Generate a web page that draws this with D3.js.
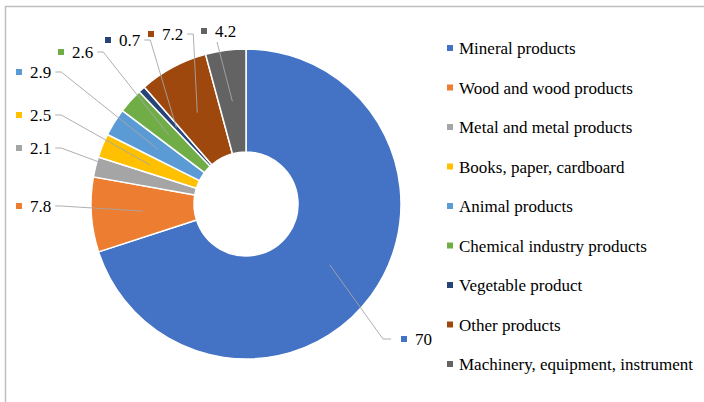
<!DOCTYPE html>
<html>
<head>
<meta charset="utf-8">
<script src="https://cdn.jsdelivr.net/npm/d3@7"></script>
<style>
  html, body { margin: 0; padding: 0; background: #fff; }
  svg { display: block; }
</style>
</head>
<body>
<svg id="chart" width="704" height="402"></svg>
<script>
// ---- data ----
const categories = [
  "Mineral products",
  "Wood and wood products",
  "Metal and metal products",
  "Books, paper, cardboard",
  "Animal products",
  "Chemical industry products",
  "Vegetable product",
  "Other products",
  "Machinery, equipment, instrument"
];
const values = [70, 7.8, 2.1, 2.5, 2.9, 2.6, 0.7, 7.2, 4.2];
const colors = ["#4472C4", "#ED7D31", "#A5A5A5", "#FFC000", "#5B9BD5", "#70AD47", "#264478", "#9E480E", "#636363"];

// ---- layout (label anchors, not data) ----
const labelLayout = [
  { x: 404, y: 339, side: "left" },
  { x: 19,  y: 206, side: "right" },
  { x: 19,  y: 148, side: "right" },
  { x: 19,  y: 115, side: "right" },
  { x: 19,  y: 72,  side: "right" },
  { x: 61,  y: 52,  side: "right" },
  { x: 108, y: 40,  side: "right" },
  { x: 151, y: 34,  side: "right" },
  { x: 204, y: 31,  side: "bottom" }
];

const FONT = "'Liberation Serif'";
const svg = d3.select("#chart");
const cx = 246, cy = 204, rOuter = 155, rInner = 52;
const fontSize = 17;

// frame lines
svg.append("line").attr("x1", 5.5).attr("x2", 5.5).attr("y1", 6).attr("y2", 402)
  .attr("stroke", "#BFBFBF").attr("stroke-width", 1.5);
svg.append("line").attr("x1", 5).attr("x2", 704).attr("y1", 6.5).attr("y2", 6.5)
  .attr("stroke", "#BFBFBF").attr("stroke-width", 1.5);

const pie = d3.pie().sort(null).value(d => d).startAngle(0).endAngle(2 * Math.PI);
const arcs = pie(values);
const arc = d3.arc().innerRadius(rInner).outerRadius(rOuter);

const g = svg.append("g").attr("transform", `translate(${cx},${cy})`);
g.selectAll("path.slice").data(arcs).join("path")
  .attr("class", "slice")
  .attr("d", arc)
  .attr("fill", (d, i) => colors[i])
  .attr("stroke", "#fff")
  .attr("stroke-width", 1.5)
  .attr("stroke-linejoin", "round");

// data labels with leader lines
const labG = svg.append("g");
arcs.forEach((d, i) => {
  const L = labelLayout[i];
  const c = arc.centroid(d);
  const px = cx + c[0], py = cy + c[1];
  labG.append("rect").attr("x", L.x - 3).attr("y", L.y - 3).attr("width", 6).attr("height", 6)
    .attr("fill", colors[i]);
  const t = labG.append("text").attr("x", L.x + 11).attr("y", L.y + 6)
    .attr("font-family", FONT).attr("fill", "#000")
    .attr("font-size", fontSize).text(String(values[i]));
  const tw = t.node().getComputedTextLength();
  let pts;
  if (L.side === "right") {
    const sx = L.x + 11 + tw + 4;
    pts = [[sx, L.y], [sx + 6, L.y], [px, py]];
  } else if (L.side === "left") {
    const sx = L.x - 13;
    pts = [[sx, L.y], [sx - 8, L.y], [px, py]];
  } else {
    pts = [[L.x + 13, L.y + 11], [px, py]];
  }
  labG.append("path").attr("d", d3.line()(pts))
    .attr("fill", "none").attr("stroke", "#A6A6A6").attr("stroke-width", 0.9);
});

// legend
const legendY = d3.scalePoint().domain(categories).range([48, 364]);
const leg = svg.append("g");
categories.forEach((c, i) => {
  const y = legendY(c);
  leg.append("rect").attr("x", 447).attr("y", y - 3).attr("width", 6).attr("height", 6)
    .attr("fill", colors[i]);
  leg.append("text").attr("x", 459).attr("y", y + 6)
    .attr("font-family", FONT).attr("fill", "#000")
    .attr("font-size", fontSize).text(c);
});
</script>
</body>
</html>
